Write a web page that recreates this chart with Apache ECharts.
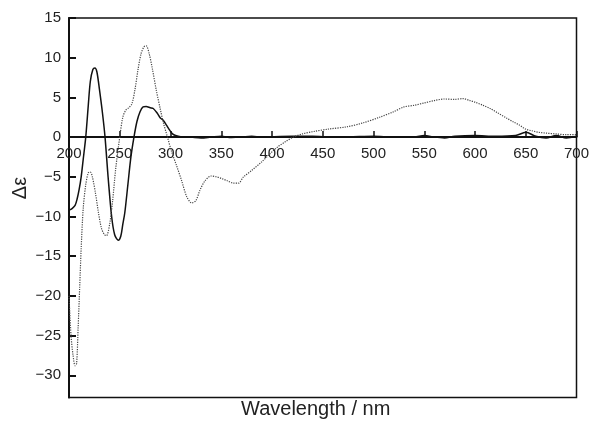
<!DOCTYPE html>
<html>
<head>
<meta charset="utf-8">
<script src="https://cdn.jsdelivr.net/npm/echarts@6/dist/echarts.min.js"></script>
<style>
  html, body { margin: 0; padding: 0; background: #fff; }
  #cdChart { width: 589px; height: 421px; }
</style>
</head>
<body>
<div id="cdChart"></div>
<script>
// solid trace
var solidWl = [200, 203, 206, 208, 210, 212, 214, 216.5, 219, 221, 223.5, 225.5, 227.5, 230, 233, 235.5, 238.5, 242, 245, 248.5,
  251, 253, 255, 258, 261, 264, 267, 270, 273, 276, 280, 283, 287, 290, 293, 296, 299, 302, 305, 310,
  320, 330, 340, 350, 360, 370, 380, 390, 400, 420, 440, 460, 480, 500, 520, 540, 550, 560, 570, 580,
  600, 620, 640, 650, 660, 670, 680, 690, 700]
var solidVal = [-9.2, -9.0, -8.6, -7.8, -6.6, -5.0, -2.8, 0, 4, 7, 8.5, 8.7, 8.2, 6, 3, 0, -5, -10, -12.3, -13,
  -12.5, -11, -9.5, -6, -2.5, 0, 2, 3.2, 3.8, 3.85, 3.7, 3.6, 3.0, 2.4, 2.1, 1.5, 0.9, 0.4, 0.2, 0.05,
  0, -0.1, 0, 0.1, -0.05, 0, 0.1, 0, 0.05, 0.1, 0.1, 0, 0.05, 0.1, 0, 0, 0.2, 0, -0.1, 0.1,
  0.2, 0.1, 0.2, 0.6, 0.1, -0.1, 0.2, -0.1, 0.1]

// dotted trace
var dotWl = [200, 202, 204, 206, 207.5, 209, 210.5, 212, 214, 216.5, 219, 221, 223, 226, 229, 232, 235, 237, 240, 243,
  246, 250, 253, 256, 259, 262, 265, 268, 271, 274, 276, 279, 282, 286, 290, 293, 297, 301, 306, 311,
  316, 321, 325, 329, 334, 340, 345, 350, 356, 362, 367, 372, 380, 390, 398, 405, 413, 421, 430, 441,
  455, 474, 490, 506, 520, 530, 540, 550, 560, 570, 580, 588, 595, 600, 608, 615, 623, 631, 638, 644,
  650, 656, 663, 670, 680, 690, 700]
var dotVal = [-20, -25, -27.5, -28.8, -28.5, -24, -19, -14, -9, -6, -4.5, -4.4, -5, -7, -9.5, -11.5, -12.3, -12.4, -11, -8,
  -4, 0, 2.5, 3.4, 3.7, 4.2, 6, 8.5, 10.5, 11.4, 11.5, 10.5, 8.7, 5.9, 3.5, 1.8, 0, -1.8, -3.6, -5.5,
  -7.5, -8.3, -8, -6.7, -5.5, -4.9, -5, -5.2, -5.5, -5.8, -5.8, -5, -4.2, -3.1, -2.1, -1.3, -0.6, 0, 0.4, 0.7,
  1.0, 1.3, 1.8, 2.5, 3.2, 3.8, 4.0, 4.3, 4.6, 4.8, 4.75, 4.85, 4.6, 4.4, 4.0, 3.6, 3.0, 2.4, 1.9, 1.5,
  1.0, 0.8, 0.6, 0.5, 0.4, 0.3, 0.3]

var yTicks = [-30, -25, -20, -15, -10, -5, 0, 5, 10, 15]
var yMin = -32.8
var yMax = 15

function pairs (xs, ys) {
  return xs.map(function (x, i) { return [x, ys[i]] })
}

var myChart = echarts.init(document.getElementById('cdChart'))
var font = 'Liberation Sans, Arial, sans-serif'
var textColor = '#222'

var gridTop = 18
var gridBottom = 23.5
var plotH = 421 - gridTop - gridBottom
// lift the x axis (line, ticks, labels) from the bottom edge up to y = 0
var zeroOffset = -plotH * (0 - yMin) / (yMax - yMin)

var option = {
  backgroundColor: '#fff',
  animation: false,
  grid: {
    show: true,
    left: 69,
    right: 12.5,
    top: gridTop,
    bottom: gridBottom,
    containLabel: false,
    outerBoundsMode: 'none',
    borderColor: '#111',
    borderWidth: 1.5
  },
  graphic: [{
    type: 'text',
    left: 241,
    top: 399,
    style: { text: 'Wavelength / nm', font: '20px ' + font, fill: textColor }
  }, {
    type: 'text',
    x: 20,
    y: 188,
    rotation: Math.PI / 2,
    style: { text: 'Δε', font: '20px ' + font, fill: textColor, align: 'center', verticalAlign: 'middle' }
  }],
  xAxis: {
    type: 'value',
    min: 200,
    max: 700,
    interval: 50,
    position: 'bottom',
    offset: zeroOffset,
    axisLine: { onZero: false, lineStyle: { color: '#111', width: 2 } },
    axisTick: { show: true, inside: true, length: 6, lineStyle: { color: '#111', width: 1.5 } },
    axisLabel: { fontFamily: font, fontSize: 15, color: textColor, margin: 9 },
    splitLine: { show: false }
  },
  yAxis: {
    type: 'value',
    min: yMin,
    max: yMax,
    axisLine: { show: true, lineStyle: { color: '#111', width: 2 } },
    axisTick: { show: true, inside: true, length: 7, customValues: yTicks, lineStyle: { color: '#111', width: 2 } },
    axisLabel: {
      fontFamily: font,
      fontSize: 15,
      color: textColor,
      margin: 8,
      customValues: yTicks,
      formatter: function (v) { return String(v).replace('-', '\u2212') }
    },
    splitLine: { show: false }
  },
  series: [{
    name: 'solid',
    type: 'line',
    data: pairs(solidWl, solidVal),
    showSymbol: false,
    smooth: 0.3,
    lineStyle: { color: '#111', width: 1.5 }
  }, {
    name: 'dotted',
    type: 'line',
    data: pairs(dotWl, dotVal),
    showSymbol: false,
    smooth: 0.3,
    lineStyle: { color: '#444', width: 1.2, type: 'dotted' }
  }]
}

myChart.setOption(option, true)
window.addEventListener('resize', function () {
  myChart.resize()
})
</script>
</body>
</html>
